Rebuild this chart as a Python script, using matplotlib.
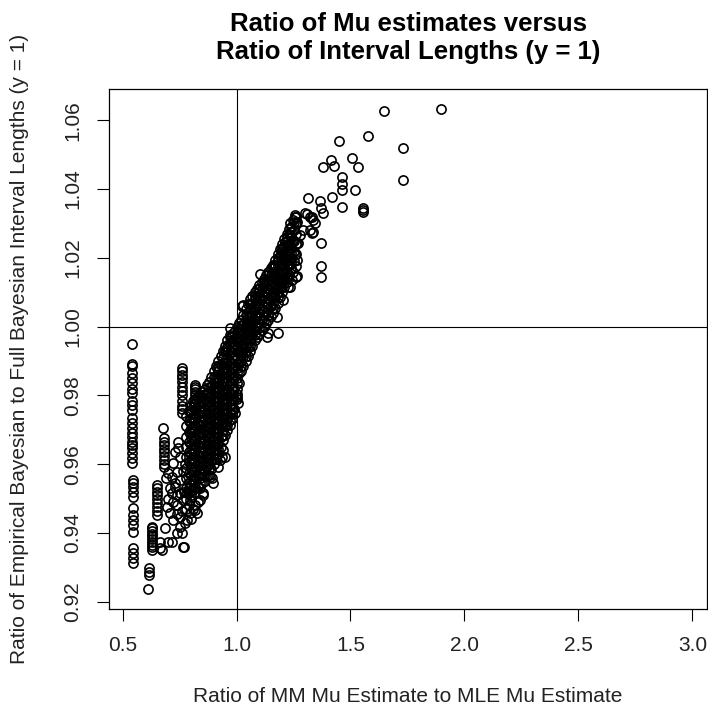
import matplotlib
matplotlib.use("Agg")
import matplotlib.pyplot as plt

plt.rcParams['font.family'] = ['Liberation Sans', 'DejaVu Sans']

# values, grouped by region
col_054 = [(0.540, 0.9950), (0.540, 0.9891), (0.541, 0.9885), (0.540, 0.9864), (0.540, 0.9850),
           (0.541, 0.9835), (0.540, 0.9818), (0.540, 0.9806), (0.541, 0.9785), (0.540, 0.9772),
           (0.540, 0.9758), (0.540, 0.9734), (0.541, 0.9719), (0.540, 0.9704), (0.540, 0.9690),
           (0.541, 0.9680), (0.540, 0.9665), (0.540, 0.9656), (0.540, 0.9646), (0.541, 0.9632),
           (0.540, 0.9617), (0.540, 0.9603), (0.545, 0.9554), (0.545, 0.9544), (0.546, 0.9535),
           (0.545, 0.9520), (0.545, 0.9505), (0.547, 0.9472), (0.546, 0.9452), (0.546, 0.9437),
           (0.546, 0.9423), (0.546, 0.9404), (0.547, 0.9355), (0.547, 0.9341), (0.548, 0.9326),
           (0.548, 0.9312)]

col_062 = [(0.612, 0.9236), (0.614, 0.9278), (0.614, 0.9286), (0.615, 0.9298), (0.628, 0.9350),
           (0.628, 0.9358), (0.628, 0.9366), (0.628, 0.9374), (0.628, 0.9382), (0.628, 0.9390),
           (0.628, 0.9398), (0.628, 0.9406), (0.629, 0.9414), (0.628, 0.9418)]

col_065 = [(0.650, 0.9540), (0.650, 0.9530), (0.650, 0.9520), (0.650, 0.9510), (0.650, 0.9500),
           (0.651, 0.9488), (0.650, 0.9476), (0.650, 0.9464), (0.650, 0.9452), (0.664, 0.9375),
           (0.664, 0.9356), (0.672, 0.9350), (0.700, 0.9375)]

col_068 = [(0.679, 0.9704), (0.680, 0.9676), (0.680, 0.9665), (0.680, 0.9655), (0.680, 0.9645),
           (0.680, 0.9635), (0.680, 0.9624), (0.680, 0.9612), (0.680, 0.9600), (0.681, 0.9592)]

col_076 = [(0.760, 0.9879), (0.760, 0.9870), (0.760, 0.9860), (0.760, 0.9850), (0.760, 0.9838),
           (0.760, 0.9825), (0.760, 0.9812), (0.760, 0.9800), (0.760, 0.9785), (0.760, 0.9770),
           (0.760, 0.9760), (0.760, 0.9748)]

col_082 = [(0.818, 0.9830), (0.818, 0.9825), (0.818, 0.9820), (0.818, 0.9810), (0.818, 0.9800),
           (0.818, 0.9790), (0.818, 0.9778)]

lower_scatter = [(0.716, 0.9375), (0.767, 0.9360), (0.686, 0.9414), (0.738, 0.9399), (0.752, 0.9418),
                 (0.723, 0.9438), (0.708, 0.9457), (0.694, 0.9476), (0.752, 0.9447), (0.782, 0.9438),
                 (0.796, 0.9457), (0.818, 0.9467), (0.818, 0.9481), (0.825, 0.9457), (0.796, 0.9496),
                 (0.767, 0.9496), (0.738, 0.9481), (0.716, 0.9515), (0.752, 0.9515), (0.782, 0.9515),
                 (0.730, 0.9535), (0.840, 0.9496), (0.854, 0.9515), (0.745, 0.9665), (0.745, 0.9646),
                 (0.730, 0.9636), (0.752, 0.9622), (0.723, 0.9603), (0.738, 0.9578), (0.716, 0.9564),
                 (0.752, 0.9554), (0.730, 0.9544), (0.769, 0.9360), (0.760, 0.9400), (0.775, 0.9430),
                 (0.700, 0.9500), (0.710, 0.9530), (0.765, 0.9580), (0.775, 0.9600), (0.690, 0.9560),
                 (0.700, 0.9575), (0.780, 0.9470), (0.790, 0.9480), (0.800, 0.9440), (0.810, 0.9470),
                 (0.830, 0.9490), (0.760, 0.9465), (0.740, 0.9455), (0.720, 0.9490), (0.770, 0.9520),
                 (0.790, 0.9530), (0.740, 0.9510)]

edge_scatter = [(0.884, 0.9564), (0.898, 0.9544), (0.942, 0.9641), (0.950, 0.9622), (0.928, 0.9612),
                (0.920, 0.9593), (0.935, 0.9622), (0.891, 0.9559), (0.854, 0.9510), (0.993, 0.9748),
                (0.971, 0.9729), (1.008, 0.9777), (1.001, 0.9796), (0.971, 0.9995), (0.971, 0.9971),
                (0.950, 0.9932), (0.913, 0.9879), (0.876, 0.9806), (1.030, 1.0063), (1.025, 1.0060),
                (1.176, 1.0029), (1.183, 0.9981), (1.140, 0.9981), (1.132, 0.9971), (1.103, 1.0153),
                (1.169, 1.0180), (1.220, 1.0213), (1.235, 1.0116), (1.205, 1.0078), (1.242, 1.0136),
                (1.264, 1.0147), (1.227, 1.0116)]

upper_cluster = [(1.213, 1.0247), (1.257, 1.0320), (1.264, 1.0305), (1.235, 1.0300), (1.300, 1.0330),
                 (1.322, 1.0320), (1.337, 1.0276), (1.279, 1.0267), (1.264, 1.0243), (1.257, 1.0325),
                 (1.249, 1.0310), (1.261, 1.0300), (1.308, 1.0328), (1.330, 1.0320), (1.337, 1.0310),
                 (1.344, 1.0300), (1.322, 1.0281), (1.330, 1.0272), (1.293, 1.0281), (1.235, 1.0267),
                 (1.249, 1.0252), (1.271, 1.0243), (1.220, 1.0223), (1.257, 1.0209), (1.264, 1.0194),
                 (1.261, 1.0175), (1.249, 1.0160), (1.261, 1.0145), (1.205, 1.0184), (1.205, 1.0155)]

top_points = [(1.648, 1.0628), (1.897, 1.0632), (1.450, 1.0541), (1.578, 1.0554), (1.732, 1.0519),
              (1.732, 1.0426), (1.414, 1.0485), (1.428, 1.0468), (1.378, 1.0464), (1.508, 1.0491),
              (1.532, 1.0464), (1.461, 1.0436), (1.461, 1.0415), (1.461, 1.0396), (1.520, 1.0398),
              (1.419, 1.0378), (1.461, 1.0347), (1.556, 1.0344), (1.556, 1.0338), (1.556, 1.0332),
              (1.315, 1.0374), (1.366, 1.0364), (1.371, 1.0344), (1.378, 1.0330), (1.371, 1.0244),
              (1.371, 1.0175), (1.371, 1.0144)]

# dense central band: one list of y values per x column
band_x = [0.78, 0.80, 0.82, 0.84, 0.86, 0.88, 0.90, 0.92, 0.94, 0.96, 0.98, 1.00, 1.02,
          1.04, 1.06, 1.08, 1.10, 1.12, 1.14, 1.16, 1.18, 1.20, 1.22, 1.24, 1.26]
band_y = [
    [0.950, 0.953, 0.956, 0.959, 0.962, 0.965, 0.968, 0.971, 0.974],
    [0.951, 0.954, 0.957, 0.960, 0.963, 0.966, 0.969, 0.972, 0.975, 0.977],
    [0.952, 0.955, 0.958, 0.961, 0.964, 0.967, 0.970, 0.973, 0.976, 0.979],
    [0.953, 0.956, 0.959, 0.962, 0.965, 0.968, 0.971, 0.974, 0.977, 0.980],
    [0.955, 0.958, 0.961, 0.964, 0.967, 0.970, 0.973, 0.976, 0.979, 0.982],
    [0.957, 0.960, 0.963, 0.966, 0.969, 0.972, 0.975, 0.978, 0.981, 0.984],
    [0.960, 0.963, 0.966, 0.969, 0.972, 0.975, 0.978, 0.981, 0.984, 0.987],
    [0.963, 0.966, 0.969, 0.972, 0.975, 0.978, 0.981, 0.984, 0.987, 0.990],
    [0.967, 0.970, 0.973, 0.976, 0.979, 0.982, 0.985, 0.988, 0.991, 0.993],
    [0.970, 0.973, 0.976, 0.979, 0.982, 0.985, 0.988, 0.991, 0.994, 0.996],
    [0.973, 0.976, 0.979, 0.982, 0.985, 0.988, 0.991, 0.994, 0.997],
    [0.979, 0.982, 0.985, 0.988, 0.991, 0.994, 0.997, 1.000],
    [0.987, 0.990, 0.993, 0.996, 0.999, 1.002],
    [0.990, 0.993, 0.996, 0.999, 1.002, 1.005],
    [0.993, 0.996, 0.999, 1.002, 1.005, 1.008],
    [0.996, 0.999, 1.002, 1.005, 1.008, 1.010],
    [0.998, 1.001, 1.004, 1.007, 1.010, 1.012],
    [1.000, 1.003, 1.006, 1.009, 1.012, 1.014],
    [1.002, 1.005, 1.008, 1.011, 1.014, 1.016],
    [1.004, 1.007, 1.010, 1.013, 1.016, 1.018],
    [1.007, 1.010, 1.013, 1.016, 1.019, 1.021],
    [1.010, 1.013, 1.016, 1.019, 1.022, 1.024],
    [1.013, 1.016, 1.019, 1.022, 1.025, 1.027],
    [1.017, 1.020, 1.023, 1.026, 1.029],
    [1.021, 1.024, 1.027, 1.030, 1.032],
]

# in-between columns of the same band
band2_x = [0.79, 0.81, 0.83, 0.85, 0.87, 0.89, 0.91, 0.93, 0.95, 0.97, 0.99, 1.01,
           1.03, 1.05, 1.07, 1.09, 1.11, 1.13, 1.15, 1.17, 1.19, 1.21, 1.23, 1.25]
band2_y = [
    [0.9515, 0.9545, 0.9575, 0.9605, 0.9635, 0.9665, 0.9695, 0.9725, 0.9755],
    [0.9525, 0.9555, 0.9585, 0.9615, 0.9645, 0.9675, 0.9705, 0.9735, 0.9765, 0.9785],
    [0.9535, 0.9565, 0.9595, 0.9625, 0.9655, 0.9685, 0.9715, 0.9745, 0.9775, 0.9795],
    [0.9545, 0.9575, 0.9605, 0.9635, 0.9665, 0.9695, 0.9725, 0.9755, 0.9785, 0.9810],
    [0.9565, 0.9595, 0.9625, 0.9655, 0.9685, 0.9715, 0.9745, 0.9775, 0.9805, 0.9830],
    [0.9585, 0.9615, 0.9645, 0.9675, 0.9705, 0.9735, 0.9765, 0.9795, 0.9825, 0.9855],
    [0.9615, 0.9645, 0.9675, 0.9705, 0.9735, 0.9765, 0.9795, 0.9825, 0.9855, 0.9885],
    [0.9650, 0.9680, 0.9710, 0.9740, 0.9770, 0.9800, 0.9830, 0.9860, 0.9890, 0.9915],
    [0.9685, 0.9715, 0.9745, 0.9775, 0.9805, 0.9835, 0.9865, 0.9895, 0.9925, 0.9945],
    [0.9715, 0.9745, 0.9775, 0.9805, 0.9835, 0.9865, 0.9895, 0.9925, 0.9955, 0.9975],
    [0.9760, 0.9790, 0.9820, 0.9850, 0.9880, 0.9910, 0.9940, 0.9965, 0.9985],
    [0.9835, 0.9865, 0.9895, 0.9925, 0.9955, 0.9985, 1.0010],
    [0.9885, 0.9915, 0.9945, 0.9975, 1.0005, 1.0035],
    [0.9915, 0.9945, 0.9975, 1.0005, 1.0035, 1.0065],
    [0.9945, 0.9975, 1.0005, 1.0035, 1.0065, 1.0090],
    [0.9970, 1.0000, 1.0030, 1.0060, 1.0090, 1.0110],
    [0.9990, 1.0020, 1.0050, 1.0080, 1.0110, 1.0130],
    [1.0010, 1.0040, 1.0070, 1.0100, 1.0130, 1.0150],
    [1.0030, 1.0060, 1.0090, 1.0120, 1.0150, 1.0170],
    [1.0055, 1.0085, 1.0115, 1.0145, 1.0175, 1.0195],
    [1.0085, 1.0115, 1.0145, 1.0175, 1.0205, 1.0225],
    [1.0115, 1.0145, 1.0175, 1.0205, 1.0235, 1.0255],
    [1.0150, 1.0180, 1.0210, 1.0240, 1.0270, 1.0285],
    [1.0190, 1.0220, 1.0250, 1.0280, 1.0305],
]

# extra points that fill the core of the band
band3_x = [0.80, 0.82, 0.84, 0.86, 0.88, 0.90, 0.92, 0.94, 0.96, 0.98, 1.00, 1.02,
           1.04, 1.06, 1.08, 1.10, 1.12, 1.14, 1.16, 1.18, 1.20, 1.22, 1.24]
band3_y = [
    [0.9525, 0.9555, 0.9585, 0.9615, 0.9645, 0.9675, 0.9705, 0.9735],
    [0.9535, 0.9565, 0.9595, 0.9625, 0.9655, 0.9685, 0.9715, 0.9745, 0.9775],
    [0.9545, 0.9575, 0.9605, 0.9635, 0.9665, 0.9695, 0.9725, 0.9755, 0.9785],
    [0.9565, 0.9595, 0.9625, 0.9655, 0.9685, 0.9715, 0.9745, 0.9775, 0.9805],
    [0.9585, 0.9615, 0.9645, 0.9675, 0.9705, 0.9735, 0.9765, 0.9795, 0.9825],
    [0.9615, 0.9645, 0.9675, 0.9705, 0.9735, 0.9765, 0.9795, 0.9825, 0.9855],
    [0.9645, 0.9675, 0.9705, 0.9735, 0.9765, 0.9795, 0.9825, 0.9855, 0.9885],
    [0.9685, 0.9715, 0.9745, 0.9775, 0.9805, 0.9835, 0.9865, 0.9895],
    [0.9715, 0.9745, 0.9775, 0.9805, 0.9835, 0.9865, 0.9895, 0.9925],
    [0.9745, 0.9775, 0.9805, 0.9835, 0.9865, 0.9895, 0.9925, 0.9955],
    [0.9805, 0.9835, 0.9865, 0.9895, 0.9925, 0.9955, 0.9985],
    [0.9885, 0.9915, 0.9945, 0.9975, 1.0005],
    [0.9915, 0.9945, 0.9975, 1.0005, 1.0035],
    [0.9945, 0.9975, 1.0005, 1.0035, 1.0065],
    [0.9975, 1.0005, 1.0035, 1.0065, 1.0090],
    [0.9995, 1.0025, 1.0055, 1.0085, 1.0110],
    [1.0015, 1.0045, 1.0075, 1.0105, 1.0130],
    [1.0035, 1.0065, 1.0095, 1.0125, 1.0150],
    [1.0055, 1.0085, 1.0115, 1.0145, 1.0170],
    [1.0085, 1.0115, 1.0145, 1.0175, 1.0200],
    [1.0115, 1.0145, 1.0175, 1.0205, 1.0230],
    [1.0145, 1.0175, 1.0205, 1.0235, 1.0260],
    [1.0185, 1.0215, 1.0245, 1.0275],
]

x_ticks = [0.5, 1.0, 1.5, 2.0, 2.5, 3.0]
y_ticks = [0.92, 0.94, 0.96, 0.98, 1.00, 1.02, 1.04, 1.06]

groups = [col_054, col_062, col_065, col_068, col_076, col_082,
          lower_scatter, edge_scatter, upper_cluster, top_points]
xs = [p[0] for g in groups for p in g]
ys = [p[1] for g in groups for p in g]
band_cols = list(zip(band_x, band_y)) + list(zip(band2_x, band2_y)) + list(zip(band3_x, band3_y))
for bx, col in band_cols:
    xs += [bx] * len(col)
    ys += col

fig = plt.figure(figsize=(7.08, 7.11), dpi=100)
ax = fig.add_axes([0.1544, 0.1430, 0.8442, 0.7318])

ax.plot(xs, ys, 'o', ms=6.6, mfc='none', mec='black', mew=1.2)
ax.axvline(1.0, color='black', lw=0.8)
ax.axhline(1.0, color='black', lw=0.8)

ax.set_xlim(0.442, 3.064)
ax.set_ylim(0.9178, 1.0691)
ax.set_xticks(x_ticks)
ax.set_xticklabels([f"{v:.1f}" for v in x_ticks])
ax.set_yticks(y_ticks)
ax.set_yticklabels([f"{v:.2f}" for v in y_ticks], rotation=90, va='center')
ax.tick_params(direction='out', length=8.5, width=0.8, labelsize=15,
               labelcolor='#222222', pad=11)
for s in ax.spines.values():
    s.set_linewidth(0.9)

fig.text(0.5765, 0.946, "Ratio of Mu estimates versus\nRatio of Interval Lengths (y = 1)",
         ha='center', va='center', fontsize=18.5, fontweight='bold', linespacing=1.22)
fig.text(0.5765, 0.0197, "Ratio of MM Mu Estimate to MLE Mu Estimate",
         ha='center', va='center', fontsize=15, color='#222222')
fig.text(0.0282, 0.509, "Ratio of Empirical Bayesian to Full Bayesian Interval Lengths (y = 1)",
         ha='center', va='center', rotation=90, fontsize=15, color='#222222')

fig.savefig("out.png", dpi=100)
